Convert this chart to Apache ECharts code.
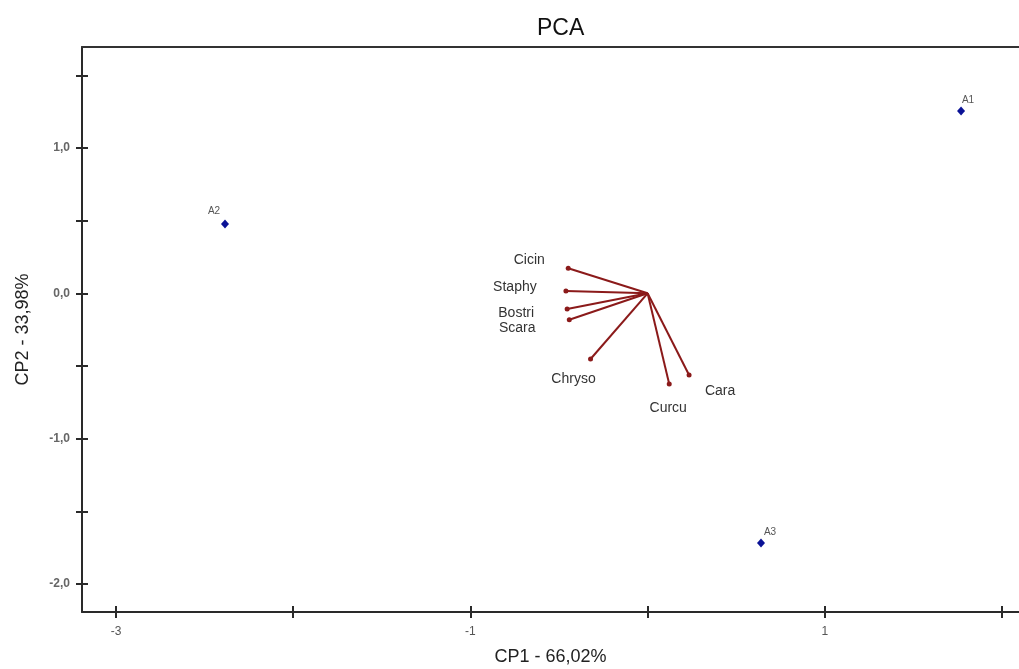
<!DOCTYPE html>
<html>
<head>
<meta charset="utf-8">
<title>PCA</title>
<script src="https://cdn.jsdelivr.net/npm/echarts@6/dist/echarts.min.js"></script>
<style>
  html, body { margin: 0; padding: 0; background: #fff; }
  #main { width: 1019px; height: 669px; }
</style>
</head>
<body>
<div id="main"></div>
<script>
// observations (scores)
var obsNames = ['A1', 'A2', 'A3'];
var obsX = [1.769, -2.385, 0.640];
var obsY = [1.254, 0.477, -1.718];

// variables (loadings), drawn as vectors from the origin
var varNames = ['Cicin', 'Staphy', 'Bostri', 'Scara', 'Chryso', 'Curcu', 'Cara'];
var varX = [-0.448, -0.461, -0.454, -0.442, -0.322, 0.122, 0.234];
var varY = [0.172, 0.016, -0.108, -0.182, -0.452, -0.624, -0.562];

// axis ticks / labels
var xTicks = [-3, -2, -1, 0, 1, 2];
var xLabels = [-3, -1, 1];
var yTicks = [-2, -1.5, -1, -0.5, 0, 0.5, 1, 1.5];
var yLabels = [-2, -1, 0, 1];

// where each text sits around its point (pixels)
var varLabelOffset = {
    Cicin: [-39, -8], Staphy: [-51, -4], Bostri: [-51, 4], Scara: [-52, 8],
    Chryso: [-17, 20], Curcu: [-1, 24], Cara: [31, 16]
};
var obsLabelOffset = { A1: [7, -11], A2: [-11, -13], A3: [9, -11] };

var myChart = echarts.init(document.getElementById('main'));

var axisCol = '#2a2a2a';
var xMin = -3.192, xMax = 2.096, yMin = -2.193, yMax = 1.695;

function comma(v) {
    return v.toFixed(1).replace('.', ',');
}

var scoreData = obsNames.map(function (n, i) {
    return {
        name: n,
        value: [obsX[i], obsY[i]],
        label: { offset: obsLabelOffset[n] }
    };
});

var vecLines = varNames.map(function (n, i) {
    return { coords: [[0, 0], [varX[i], varY[i]]] };
});

var vecEnds = varNames.map(function (n, i) {
    return {
        name: n,
        value: [varX[i], varY[i]],
        label: { offset: varLabelOffset[n] }
    };
});

var option = {
    animation: false,
    backgroundColor: '#fff',
    title: {
        text: 'PCA',
        left: 532,
        top: 12,
        textStyle: { fontFamily: 'Liberation Sans', fontSize: 23, fontWeight: 'normal', color: '#111' }
    },
    grid: { left: 82, right: 0, top: 47, bottom: 57, outerBoundsMode: 'none', containLabel: false },
    xAxis: [{
        type: 'value',
        min: xMin, max: xMax,
        name: 'CP1 - 66,02%',
        nameLocation: 'middle',
        nameGap: 36,
        nameTextStyle: { fontFamily: 'Liberation Sans', fontSize: 18, color: '#222' },
        axisLine: { show: true, onZero: false, lineStyle: { color: axisCol, width: 2 } },
        axisTick: { show: true, length: 6, customValues: xTicks, lineStyle: { color: axisCol, width: 2 } },
        axisLabel: {
            customValues: xLabels, margin: 14,
            fontFamily: 'Liberation Sans', fontSize: 12, color: '#555',
            formatter: function (v) { return String(v); }
        },
        splitLine: { show: false }
    }, {
        // inner half of the crossing ticks
        type: 'value', position: 'bottom',
        min: xMin, max: xMax,
        axisLine: { show: false, onZero: false },
        axisTick: { show: true, inside: true, length: 6, customValues: xTicks, lineStyle: { color: axisCol, width: 2 } },
        axisLabel: { show: false },
        splitLine: { show: false }
    }, {
        // top frame line
        type: 'value', position: 'top',
        min: xMin, max: xMax,
        axisLine: { show: true, onZero: false, lineStyle: { color: '#333', width: 2 } },
        axisTick: { show: false },
        axisLabel: { show: false },
        splitLine: { show: false }
    }],
    yAxis: [{
        type: 'value',
        min: yMin, max: yMax,
        name: 'CP2 - 33,98%',
        nameLocation: 'middle',
        nameGap: 50,
        nameRotate: 90,
        nameTextStyle: { fontFamily: 'Liberation Sans', fontSize: 18, color: '#222' },
        axisLine: { show: true, onZero: false, lineStyle: { color: axisCol, width: 2 } },
        axisTick: { show: true, length: 6, customValues: yTicks, lineStyle: { color: axisCol, width: 2 } },
        axisLabel: {
            customValues: yLabels, margin: 12,
            fontFamily: 'Liberation Sans', fontSize: 12, fontWeight: 'bold', color: '#666',
            formatter: comma
        },
        splitLine: { show: false }
    }, {
        type: 'value',
        min: yMin, max: yMax,
        position: 'left',
        axisLine: { show: false, onZero: false },
        axisTick: { show: true, inside: true, length: 6, customValues: yTicks, lineStyle: { color: axisCol, width: 2 } },
        axisLabel: { show: false },
        splitLine: { show: false }
    }],
    series: [{
        name: 'vectors',
        type: 'lines',
        coordinateSystem: 'cartesian2d',
        xAxisIndex: 0, yAxisIndex: 0,
        lineStyle: { color: '#8b1a1a', width: 2, opacity: 1 },
        data: vecLines
    }, {
        name: 'variables',
        type: 'scatter',
        xAxisIndex: 0, yAxisIndex: 0,
        symbol: 'circle',
        symbolSize: 5,
        itemStyle: { color: '#8b1a1a', opacity: 1 },
        label: {
            show: true,
            position: 'inside',
            formatter: '{b}',
            fontFamily: 'Liberation Sans', fontSize: 14, color: '#333'
        },
        data: vecEnds
    }, {
        name: 'scores',
        type: 'scatter',
        xAxisIndex: 0, yAxisIndex: 0,
        symbol: 'diamond',
        symbolSize: [8, 9],
        itemStyle: { color: '#0a1296', opacity: 1 },
        label: {
            show: true,
            position: 'inside',
            formatter: '{b}',
            fontFamily: 'Liberation Sans', fontSize: 10, color: '#555'
        },
        data: scoreData
    }]
};

myChart.setOption(option);
</script>
</body>
</html>
